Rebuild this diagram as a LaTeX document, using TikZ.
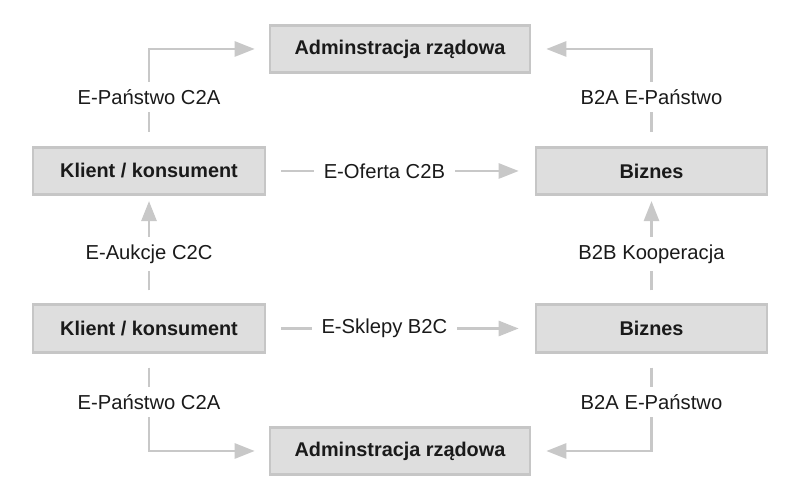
\documentclass[tikz,border=0pt]{standalone}
\usepackage{fontspec}
\setmainfont{Liberation Sans}
\usetikzlibrary{arrows.meta}
\definecolor{boxfill}{HTML}{DEDEDE}
\definecolor{boxline}{HTML}{C6C6C6}
\definecolor{arrcol}{HTML}{C8C8C8}
\definecolor{txt}{HTML}{1A1A1A}
\begin{document}
\begin{tikzpicture}[
  box/.style={draw=boxline, line width=1.5pt, fill=boxfill, minimum height=0.95cm,
    font=\fontsize{11.3}{13}\selectfont\bfseries, text=txt},
  arr/.style={draw=arrcol, line width=1.5pt, -{Triangle[length=0.4cm,width=0.3cm]}},
  lab/.style={fill=white, font=\fontsize{11.5}{13}\selectfont, text=txt,
    inner xsep=0.2cm, inner ysep=0.15cm}]
\useasboundingbox[fill=white] (0,0) rectangle (16,10);
\node[box, minimum width=5.2cm]  (admT) at (8,9.02)    {Adminstracja rządowa};
\node[box, minimum width=4.64cm] (kT)   at (2.98,6.58) {Klient / konsument};
\node[box, minimum width=4.62cm] (bT)   at (13.03,6.58) {Biznes};
\node[box, minimum width=4.64cm] (kB)   at (2.98,3.43) {Klient / konsument};
\node[box, minimum width=4.62cm] (bB)   at (13.03,3.43) {Biznes};
\node[box, minimum width=5.2cm]  (admB) at (8,0.98)    {Adminstracja rządowa};

\draw[arr, shorten <=0.28cm, shorten >=0.28cm] (kT.north) |- node[lab,pos=0.25]{E-Państwo C2A} (admT.west);
\draw[arr, shorten <=0.28cm, shorten >=0.3cm] (bT.north) |- node[lab,pos=0.25]{B2A E-Państwo} (admT.east);
\draw[arr, shorten <=0.3cm, shorten >=0.32cm] (kT.east) -- node[lab,pos=0.44]{E-Oferta C2B} (bT.west);
\draw[arr, shorten <=0.3cm, shorten >=0.32cm] (kB.east) -- node[lab,pos=0.44]{E-Sklepy B2C} (bB.west);
\draw[arr, shorten <=0.26cm, shorten >=0.1cm] (kB.north) -- node[lab,pos=0.46]{E-Aukcje C2C} (kT.south);
\draw[arr, shorten <=0.26cm, shorten >=0.1cm] (bB.north) -- node[lab,pos=0.46]{B2B Kooperacja} (bT.south);
\draw[arr, shorten <=0.28cm, shorten >=0.28cm] (kB.south) |- node[lab,pos=0.25]{E-Państwo C2A} (admB.west);
\draw[arr, shorten <=0.28cm, shorten >=0.3cm] (bB.south) |- node[lab,pos=0.25]{B2A E-Państwo} (admB.east);
\end{tikzpicture}
\end{document}
